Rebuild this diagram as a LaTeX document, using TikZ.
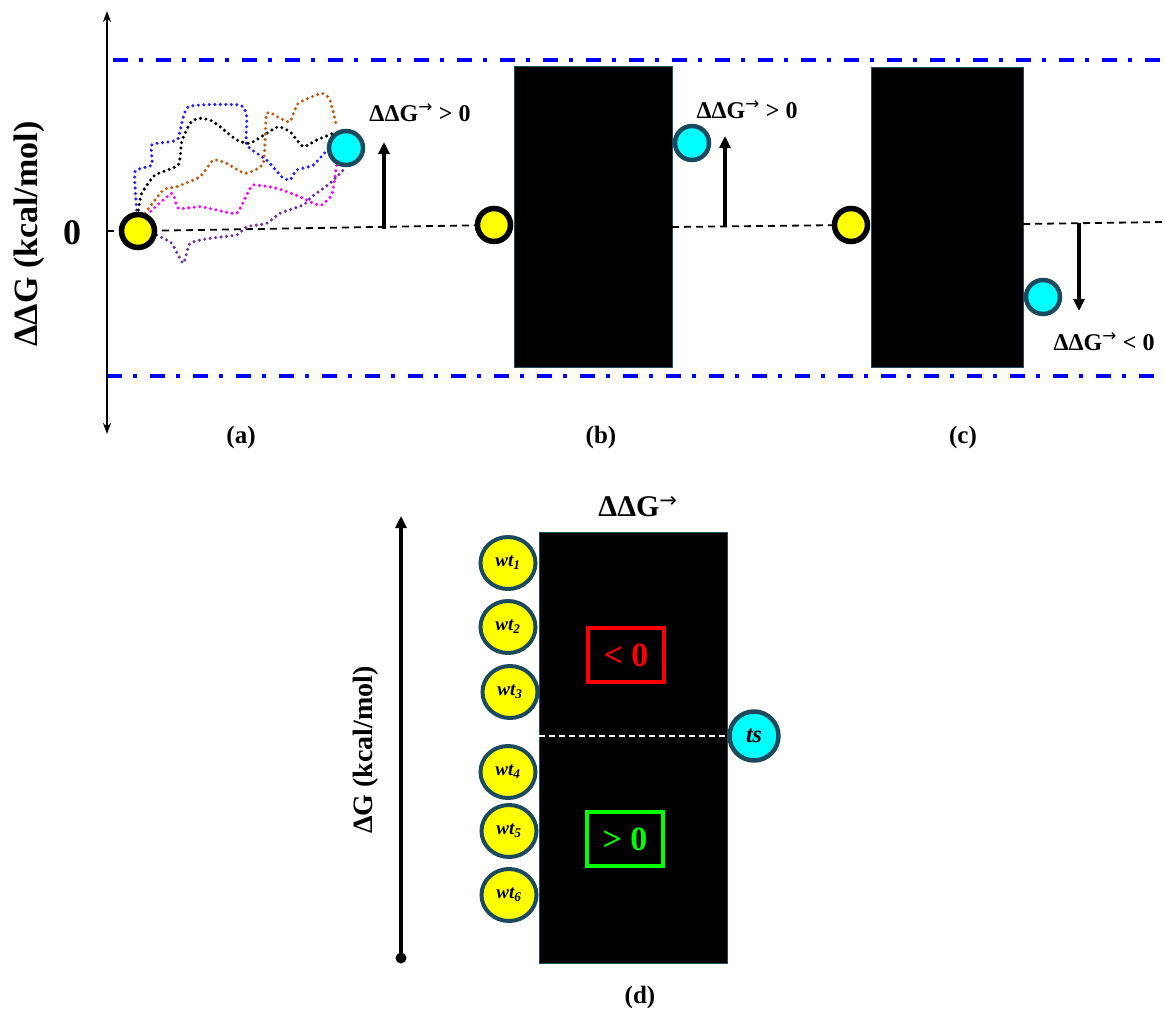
\documentclass[tikz,border=0pt]{standalone}
\usepackage{fontspec}
\setmainfont{Liberation Serif}
\usetikzlibrary{arrows.meta,shapes.geometric}
\definecolor{rimteal}{HTML}{1B4A5E}
\definecolor{ballyellow}{HTML}{FFFF00}
\definecolor{ballcyan}{HTML}{00FFFF}
\definecolor{lineblue}{HTML}{0000FF}
\definecolor{wigblue}{HTML}{1F1FFF}
\definecolor{wigorange}{HTML}{C55A11}
\definecolor{wigmag}{HTML}{FF00FF}
\definecolor{wigpurple}{HTML}{7030A0}
\definecolor{okgreen}{HTML}{00FF00}
\definecolor{badred}{HTML}{FF0000}
\newcommand{\ddgsym}{ΔΔG\textsuperscript{\fontspec{DejaVu Sans}\mdseries →}}
\begin{document}
\begin{tikzpicture}[x=1pt,y=-1pt,
  ybal/.style={circle, fill=ballyellow, draw=black, line width=5.5pt, minimum size=33pt, inner sep=0pt},
  cbal/.style={circle, fill=ballcyan, draw=rimteal, line width=4.5pt, minimum size=34pt, inner sep=0pt},
  wtbal/.style={ellipse, fill=ballyellow, draw=rimteal, line width=4pt, minimum width=55pt, minimum height=52pt, inner sep=0pt, font=\bfseries\itshape\fontsize{19}{19}\selectfont},
  barrier/.style={fill=black, draw=rimteal, line width=1.2pt},
  bluedash/.style={draw=lineblue, line width=3.5pt, dash pattern=on 15pt off 11pt on 4pt off 13pt},
  zeroline/.style={line width=1.8pt, dash pattern=on 7pt off 5pt},
  wig/.style={line width=3.4pt, dash pattern=on 0pt off 5.5pt, line cap=round},
  uparr/.style={line width=3.2pt, -{Triangle[length=12pt,width=11pt]}},
  lbl/.style={font=\bfseries\fontsize{24}{24}\selectfont, inner sep=0pt},
  panel/.style={font=\bfseries\fontsize{25}{25}\selectfont, inner sep=0pt},
  signbox/.style={line width=3.5pt, minimum width=76pt, minimum height=54pt, inner sep=0pt, font=\bfseries\fontsize{34}{34}\selectfont}
]
\useasboundingbox[fill=white] (0,0) rectangle (1165,1009);

% ---------- top panels ----------
\draw[bluedash] (113,60) -- (1165,60);
\draw[bluedash] (107,376) -- (1165,376);
\draw[line width=2.6pt, {Stealth[length=11pt,width=8pt]}-{Stealth[length=11pt,width=8pt]}] (107,11) -- (107,434);

\node[rotate=90, font=\bfseries\fontsize{34}{34}\selectfont, inner sep=0pt] (ylab) at (29,234) {ΔΔG (kcal/mol)};
\node[font=\bfseries\fontsize{36}{36}\selectfont, inner sep=0pt] (zero) at (72,233) {0};

\coordinate (ax0) at (107,231);
\coordinate (redge) at (1165,222);

% barriers
\node[barrier, minimum width=158pt, minimum height=301pt, inner sep=0pt, anchor=north west] (rb) at (514,66) {};
\node[barrier, minimum width=152pt, minimum height=300pt, inner sep=0pt, anchor=north west] (rc) at (871,67) {};

% panel a wiggles
\draw[wig, wigblue] plot[smooth, tension=0.3] coordinates {(136.7,210) (135,171.7) (151.7,165) (151.7,145) (170,141.7) (178.3,138.3) (188.3,106.7) (240,105) (246.7,116.7) (246.7,145) (266.7,160) (281.7,176.7) (290,180) (296.7,170) (313.3,165) (330,146.7)};
\draw[wig, black] plot[smooth, tension=0.3] coordinates {(138.3,210) (141.7,193.3) (155,175) (178.3,165) (181.7,141.7) (190,123.3) (198.3,118.3) (210,120) (220,126.7) (236.7,140) (250,143.3) (266.7,133.3) (278.3,126.7) (290,131.7) (303.3,146.7) (316.7,140) (333.3,133.3)};
\draw[wig, wigorange] plot[smooth, tension=0.3] coordinates {(145,213.3) (163.3,190) (176.7,186.7) (200,176.7) (213.3,160) (226.7,163.3) (245,173.3) (263.3,163.3) (266.7,113.3) (280,118.3) (290,121.7) (298.3,103.3) (321.7,93.3) (330,100) (336.7,126.7)};
\draw[wig, wigmag] plot[smooth, tension=0.3] coordinates {(146.7,215) (171.7,193.3) (178.3,208.3) (200,206.7) (216.7,210) (236.7,213.3) (246.7,195) (253.3,185) (276.7,188.3) (300,196.7) (313.3,203.3) (321.7,205) (331.7,195) (335,176.7) (336.7,165)};
\draw[wig, wigpurple] plot[smooth, tension=0.3] coordinates {(156.7,235) (171.7,243.3) (183.3,263.3) (190,243.3) (210,238.3) (236.7,235) (246.7,226.7) (266.7,223.3) (280,213.3) (303.3,205) (311.7,196.7) (330,183.3) (345,168.3)};

% zero lines
\draw[zeroline] (ax0) -- (138,231);
\draw[zeroline] (138,231) -- (494,225);
\coordinate (rbz) at (672,227);
\coordinate (rcz) at (1023,224);
\draw[zeroline] (rbz) -- (851,225);
\draw[zeroline] (rcz) -- (redge);

% balls
\node[ybal] (ya) at (138,231) {};
\node[cbal] (ca) at (346,148) {};
\node[ybal] (yb) at (494,225) {};
\node[cbal] (cb) at (692,143) {};
\node[ybal] (yc) at (851,225) {};
\node[cbal] (cc) at (1043,297) {};

% arrows and labels
\coordinate (aa0) at (384,229);
\coordinate (aa1) at (384,142);
\draw[uparr] (aa0) -- (aa1);
\node[lbl] (la) at (420,113) {\ddgsym{} > 0};

\coordinate (ab0) at (725,227);
\coordinate (ab1) at (725,136);
\draw[uparr] (ab0) -- (ab1);
\node[lbl] (lb) at (747,110) {\ddgsym{} > 0};

\coordinate (ac0) at (1079,223);
\coordinate (ac1) at (1079,311);
\draw[uparr] (ac0) -- (ac1);
\node[lbl] (lc) at (1104,342) {\ddgsym{} < 0};

\node[panel] (pa) at (241,437) {(a)};
\node[panel] (pb) at (601,437) {(b)};
\node[panel] (pc) at (963,437) {(c)};

% ---------- panel d ----------
\coordinate (dbot) at (401,958);
\coordinate (dtop) at (401,516);
\draw[line width=3.2pt, -{Triangle[length=12pt,width=11pt]}] (dbot) -- (dtop);
\fill (dbot) circle (5.5pt);
\node[rotate=90, font=\bfseries\fontsize{28}{28}\selectfont, inner sep=0pt] (dlab) at (366,750) {ΔG (kcal/mol)};

\node[barrier, minimum width=188pt, minimum height=431pt, inner sep=0pt, anchor=north west] (rd) at (539,532) {};
\node[font=\bfseries\fontsize{30}{30}\selectfont, inner sep=0pt] (dtitle) at (638,507) {\ddgsym};
\draw[white, line width=1.5pt, dash pattern=on 6pt off 4pt] (rd.west |- 0,736) -- (rd.east |- 0,736);

\node[wtbal] (w1) at (508,563) {wt\textsubscript{1}};
\node[wtbal] (w2) at (508,627) {wt\textsubscript{2}};
\node[wtbal] (w3) at (510,692) {wt\textsubscript{3}};
\node[wtbal] (w4) at (508,772) {wt\textsubscript{4}};
\node[wtbal] (w5) at (509,831) {wt\textsubscript{5}};
\node[wtbal] (w6) at (509,895) {wt\textsubscript{6}};

\node[circle, fill=ballcyan, draw=rimteal, line width=4.5pt, minimum size=49pt, inner sep=0pt, font=\bfseries\itshape\fontsize{24}{24}\selectfont] (ts) at (754,736) {ts};

\node[signbox, draw=badred, text=badred] (neg) at (626,655) {< 0};
\node[signbox, draw=okgreen, text=okgreen] (pos) at (625,839) {> 0};

\node[panel] (pd) at (640,997) {(d)};
\end{tikzpicture}
\end{document}
